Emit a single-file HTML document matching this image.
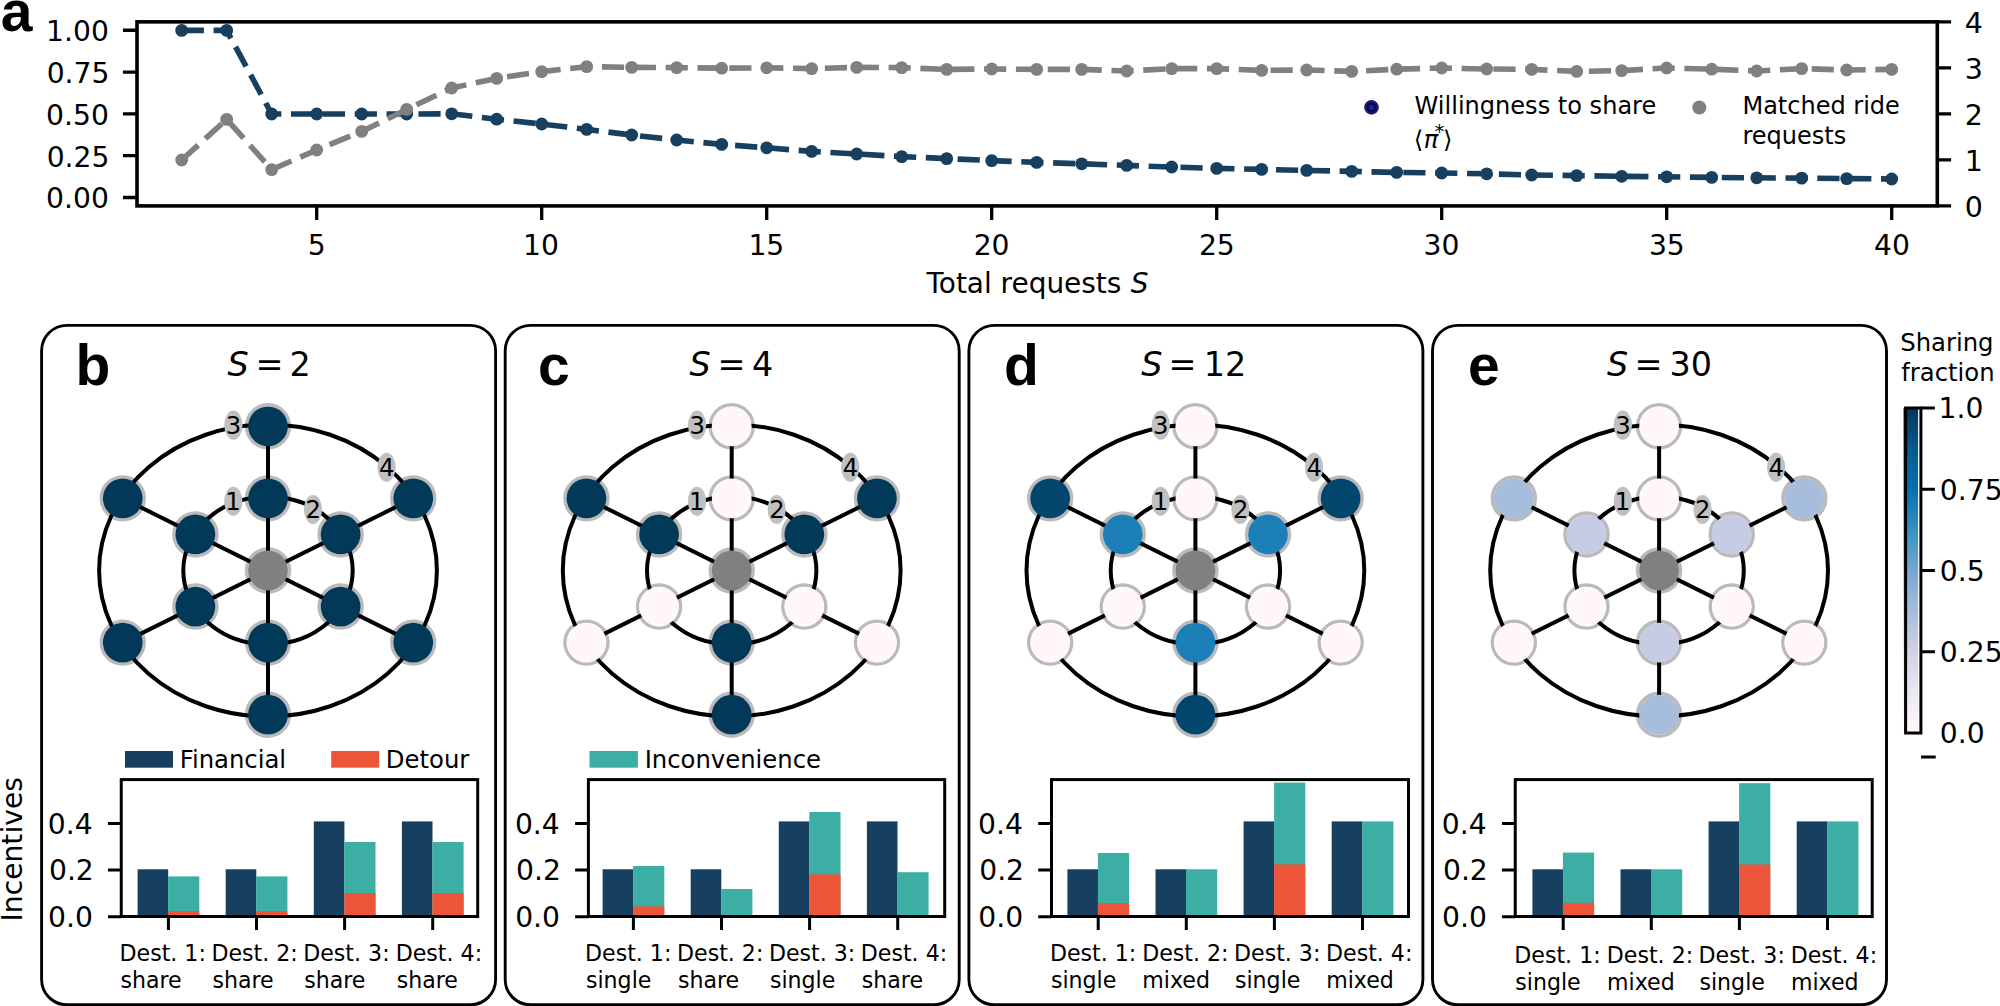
<!DOCTYPE html>
<html><head><meta charset="utf-8"><title>Figure</title><style>html,body{margin:0;padding:0;background:#fff}svg{display:block}</style></head><body>
<svg width="2000" height="1006" viewBox="0 0 2000 1006" font-family="'DejaVu Sans', 'Liberation Sans', sans-serif" fill="#000">
<rect width="2000" height="1006" fill="#fff"/>
<polyline points="181.7,30.4 226.7,30.4 271.7,114 316.7,114 361.7,114 406.7,114 451.7,113.8 496.7,119.2 541.7,124 586.7,129.4 631.7,135 676.7,140 721.7,144.4 766.7,147.8 811.7,151.4 856.7,154 901.7,156.6 946.7,158.6 991.7,160.6 1036.7,162.4 1081.7,163.8 1126.7,165.4 1171.7,167 1216.7,168.4 1261.7,169.4 1306.7,170.4 1351.7,171.4 1396.7,172.4 1441.7,173 1486.7,173.8 1531.7,175 1576.7,175.6 1621.7,176.3 1666.7,176.8 1711.7,177.4 1756.7,177.8 1801.7,178.1 1846.7,178.6 1891.7,179" fill="none" stroke="#173F5F" stroke-width="5.6" stroke-dasharray="22.2 9.65"/>
<g fill="#173F5F"><circle cx="181.7" cy="30.4" r="6.4"/><circle cx="226.7" cy="30.4" r="6.4"/><circle cx="271.7" cy="114" r="6.4"/><circle cx="316.7" cy="114" r="6.4"/><circle cx="361.7" cy="114" r="6.4"/><circle cx="406.7" cy="114" r="6.4"/><circle cx="451.7" cy="113.8" r="6.4"/><circle cx="496.7" cy="119.2" r="6.4"/><circle cx="541.7" cy="124" r="6.4"/><circle cx="586.7" cy="129.4" r="6.4"/><circle cx="631.7" cy="135" r="6.4"/><circle cx="676.7" cy="140" r="6.4"/><circle cx="721.7" cy="144.4" r="6.4"/><circle cx="766.7" cy="147.8" r="6.4"/><circle cx="811.7" cy="151.4" r="6.4"/><circle cx="856.7" cy="154" r="6.4"/><circle cx="901.7" cy="156.6" r="6.4"/><circle cx="946.7" cy="158.6" r="6.4"/><circle cx="991.7" cy="160.6" r="6.4"/><circle cx="1036.7" cy="162.4" r="6.4"/><circle cx="1081.7" cy="163.8" r="6.4"/><circle cx="1126.7" cy="165.4" r="6.4"/><circle cx="1171.7" cy="167" r="6.4"/><circle cx="1216.7" cy="168.4" r="6.4"/><circle cx="1261.7" cy="169.4" r="6.4"/><circle cx="1306.7" cy="170.4" r="6.4"/><circle cx="1351.7" cy="171.4" r="6.4"/><circle cx="1396.7" cy="172.4" r="6.4"/><circle cx="1441.7" cy="173" r="6.4"/><circle cx="1486.7" cy="173.8" r="6.4"/><circle cx="1531.7" cy="175" r="6.4"/><circle cx="1576.7" cy="175.6" r="6.4"/><circle cx="1621.7" cy="176.3" r="6.4"/><circle cx="1666.7" cy="176.8" r="6.4"/><circle cx="1711.7" cy="177.4" r="6.4"/><circle cx="1756.7" cy="177.8" r="6.4"/><circle cx="1801.7" cy="178.1" r="6.4"/><circle cx="1846.7" cy="178.6" r="6.4"/><circle cx="1891.7" cy="179" r="6.4"/></g>
<polyline points="181.7,160 226.7,119.4 271.7,169.6 316.7,150 361.7,131.4 406.7,109.4 451.7,88 496.7,78.4 541.7,71.6 586.7,66.6 631.7,67.4 676.7,67.6 721.7,68.2 766.7,67.8 811.7,68.6 856.7,67.4 901.7,67.6 946.7,69.4 991.7,69 1036.7,69.4 1081.7,69.4 1126.7,71 1171.7,68.6 1216.7,68.6 1261.7,70.4 1306.7,70 1351.7,71.4 1396.7,69.2 1441.7,68 1486.7,69 1531.7,69.4 1576.7,71.4 1621.7,70.6 1666.7,68 1711.7,69.2 1756.7,71 1801.7,68.6 1846.7,70 1891.7,69.4" fill="none" stroke="#808080" stroke-width="5.6" stroke-dasharray="22.2 9.65"/>
<g fill="#808080"><circle cx="181.7" cy="160" r="6.4"/><circle cx="226.7" cy="119.4" r="6.4"/><circle cx="271.7" cy="169.6" r="6.4"/><circle cx="316.7" cy="150" r="6.4"/><circle cx="361.7" cy="131.4" r="6.4"/><circle cx="406.7" cy="109.4" r="6.4"/><circle cx="451.7" cy="88" r="6.4"/><circle cx="496.7" cy="78.4" r="6.4"/><circle cx="541.7" cy="71.6" r="6.4"/><circle cx="586.7" cy="66.6" r="6.4"/><circle cx="631.7" cy="67.4" r="6.4"/><circle cx="676.7" cy="67.6" r="6.4"/><circle cx="721.7" cy="68.2" r="6.4"/><circle cx="766.7" cy="67.8" r="6.4"/><circle cx="811.7" cy="68.6" r="6.4"/><circle cx="856.7" cy="67.4" r="6.4"/><circle cx="901.7" cy="67.6" r="6.4"/><circle cx="946.7" cy="69.4" r="6.4"/><circle cx="991.7" cy="69" r="6.4"/><circle cx="1036.7" cy="69.4" r="6.4"/><circle cx="1081.7" cy="69.4" r="6.4"/><circle cx="1126.7" cy="71" r="6.4"/><circle cx="1171.7" cy="68.6" r="6.4"/><circle cx="1216.7" cy="68.6" r="6.4"/><circle cx="1261.7" cy="70.4" r="6.4"/><circle cx="1306.7" cy="70" r="6.4"/><circle cx="1351.7" cy="71.4" r="6.4"/><circle cx="1396.7" cy="69.2" r="6.4"/><circle cx="1441.7" cy="68" r="6.4"/><circle cx="1486.7" cy="69" r="6.4"/><circle cx="1531.7" cy="69.4" r="6.4"/><circle cx="1576.7" cy="71.4" r="6.4"/><circle cx="1621.7" cy="70.6" r="6.4"/><circle cx="1666.7" cy="68" r="6.4"/><circle cx="1711.7" cy="69.2" r="6.4"/><circle cx="1756.7" cy="71" r="6.4"/><circle cx="1801.7" cy="68.6" r="6.4"/><circle cx="1846.7" cy="70" r="6.4"/><circle cx="1891.7" cy="69.4" r="6.4"/></g>
<rect x="137.0" y="21.85" width="1800.3" height="184.05" fill="none" stroke="#000" stroke-width="3.6"/>
<path d="M137.0,30.25h-14.05M137.0,72.05h-14.05M137.0,113.9h-14.05M137.0,155.7h-14.05M137.0,197.5h-14.05M1937.3,21.85h13.8M1937.3,67.9h13.8M1937.3,113.9h13.8M1937.3,159.9h13.8M1937.3,205.9h13.8M316.7,205.9v14.1M541.7,205.9v14.1M766.7,205.9v14.1M991.7,205.9v14.1M1216.7,205.9v14.1M1441.7,205.9v14.1M1666.7,205.9v14.1M1891.7,205.9v14.1" stroke="#000" stroke-width="3.3" fill="none"/>
<text x="46.09" y="41.05" font-size="28.2" text-anchor="start">1.00</text>
<text x="46.65" y="82.85" font-size="28.2" text-anchor="start">0.75</text>
<text x="46.09" y="124.7" font-size="28.2" text-anchor="start">0.50</text>
<text x="46.65" y="166.5" font-size="28.2" text-anchor="start">0.25</text>
<text x="46.09" y="208.3" font-size="28.2" text-anchor="start">0.00</text>
<text x="1964.75" y="32.65" font-size="28.5" text-anchor="start">4</text>
<text x="1964.75" y="78.7" font-size="28.5" text-anchor="start">3</text>
<text x="1964.75" y="124.7" font-size="28.5" text-anchor="start">2</text>
<text x="1964.75" y="170.7" font-size="28.5" text-anchor="start">1</text>
<text x="1964.75" y="216.7" font-size="28.5" text-anchor="start">0</text>
<text x="307.85" y="255.2" font-size="28.2" text-anchor="start">5</text>
<text x="523.12" y="255.2" font-size="28.2" text-anchor="start">10</text>
<text x="748.41" y="255.2" font-size="28.2" text-anchor="start">15</text>
<text x="973.65" y="255.2" font-size="28.2" text-anchor="start">20</text>
<text x="1198.93" y="255.2" font-size="28.2" text-anchor="start">25</text>
<text x="1423.62" y="255.2" font-size="28.2" text-anchor="start">30</text>
<text x="1648.9" y="255.2" font-size="28.2" text-anchor="start">35</text>
<text x="1874" y="255.2" font-size="28.2" text-anchor="start">40</text>
<text x="926.47" y="292.8" font-size="27.95" text-anchor="start">Total requests</text>
<text x="1130.76" y="292.8" font-size="27.95" font-style="oblique" text-anchor="start">S</text>
<text x="0.69" y="30.9" font-size="57" font-weight="bold" font-family="'Liberation Sans', Arial, Helvetica, sans-serif" text-anchor="start">a</text>
<circle cx="1371.5" cy="107.4" r="7.3" fill="#1a1a6f"/><circle cx="1371.5" cy="107.4" r="5.1" fill="#080864"/><circle cx="1371.5" cy="107.4" r="2.7" fill="#272774"/>
<circle cx="1699.3" cy="107.5" r="7" fill="#808080"/>
<text x="1414.62" y="114" font-size="24.05" text-anchor="start">Willingness to share</text>
<text x="1742.46" y="114" font-size="24" text-anchor="start">Matched ride</text>
<text x="1742.44" y="144.3" font-size="24" text-anchor="start">requests</text>
<text x="1413.81" y="148" font-size="24.3" text-anchor="start">⟨</text>
<text x="1423.66" y="148" font-size="24.3" font-style="oblique" text-anchor="start">π</text>
<text x="1434.6" y="138.4" font-size="19.93" text-anchor="start">*</text>
<text x="1442.96" y="148" font-size="24.3" text-anchor="start">⟩</text>
<rect x="41.6" y="325.4" width="454" height="679.4" rx="25.3" ry="25.3" fill="none" stroke="#000" stroke-width="2.9"/>
<text x="75.39" y="384.6" font-size="57" font-weight="bold" font-family="'Liberation Sans', Arial, Helvetica, sans-serif" text-anchor="start">b</text>
<text x="227.53" y="376.3" font-size="33.4" font-style="oblique" text-anchor="start">S</text>
<text x="255.39" y="376.3" font-size="33.4" text-anchor="start">=</text>
<text x="289.58" y="376.3" font-size="33.4" text-anchor="start">2</text>
<g fill="none" stroke="#bababa" stroke-width="3.5"><circle cx="268" cy="426.3" r="21.45"/><circle cx="413.24" cy="498.4" r="21.45"/><circle cx="413.24" cy="642.6" r="21.45"/><circle cx="268" cy="714.7" r="21.45"/><circle cx="122.76" cy="642.6" r="21.45"/><circle cx="122.76" cy="498.4" r="21.45"/><circle cx="268" cy="498.4" r="21.45"/><circle cx="340.62" cy="534.45" r="21.45"/><circle cx="340.62" cy="606.55" r="21.45"/><circle cx="268" cy="642.6" r="21.45"/><circle cx="195.38" cy="606.55" r="21.45"/><circle cx="195.38" cy="534.45" r="21.45"/><circle cx="268" cy="570.5" r="21.45"/></g>
<g fill="none" stroke="#000" stroke-width="4">
<ellipse cx="268" cy="570.5" rx="168.9" ry="146"/><ellipse cx="268" cy="570.5" rx="84.7" ry="74"/>
<path d="M268,426.3L268,714.7M413.24,498.4L122.76,642.6M413.24,642.6L122.76,498.4"/></g>
<ellipse cx="233.4" cy="425.2" rx="9.1" ry="14.6" fill="#c0c0c0"/>
<text x="225.72" y="434" font-size="24.3" text-anchor="start">3</text>
<ellipse cx="233.3" cy="501.3" rx="9.1" ry="14.6" fill="#c0c0c0"/>
<text x="225.34" y="510.1" font-size="24.3" text-anchor="start">1</text>
<ellipse cx="313" cy="509.5" rx="9.1" ry="14.6" fill="#c0c0c0"/>
<text x="305.59" y="518.3" font-size="24.3" text-anchor="start">2</text>
<ellipse cx="386.6" cy="467.3" rx="9.1" ry="14.6" fill="#c0c0c0"/>
<text x="378.98" y="476.1" font-size="24.3" text-anchor="start">4</text>
<g><circle cx="268" cy="426.3" r="19.9" fill="#023858"/><circle cx="413.24" cy="498.4" r="19.9" fill="#023858"/><circle cx="413.24" cy="642.6" r="19.9" fill="#023858"/><circle cx="268" cy="714.7" r="19.9" fill="#023858"/><circle cx="122.76" cy="642.6" r="19.9" fill="#023858"/><circle cx="122.76" cy="498.4" r="19.9" fill="#023858"/><circle cx="268" cy="498.4" r="19.9" fill="#023858"/><circle cx="340.62" cy="534.45" r="19.9" fill="#023858"/><circle cx="340.62" cy="606.55" r="19.9" fill="#023858"/><circle cx="268" cy="642.6" r="19.9" fill="#023858"/><circle cx="195.38" cy="606.55" r="19.9" fill="#023858"/><circle cx="195.38" cy="534.45" r="19.9" fill="#023858"/><circle cx="268" cy="570.5" r="19.9" fill="#808080"/></g>
<rect x="137.6" y="869.3" width="30.6" height="47.2" fill="#173F5F"/>
<rect x="168.1" y="876.4" width="31.2" height="40.1" fill="#3CAEA3"/>
<rect x="168.1" y="911" width="31.2" height="5.5" fill="#ED553B"/>
<rect x="225.7" y="869.3" width="30.6" height="47.2" fill="#173F5F"/>
<rect x="256.2" y="876.4" width="31.2" height="40.1" fill="#3CAEA3"/>
<rect x="256.2" y="911" width="31.2" height="5.5" fill="#ED553B"/>
<rect x="313.8" y="821.4" width="30.6" height="95.1" fill="#173F5F"/>
<rect x="344.3" y="842" width="31.2" height="74.5" fill="#3CAEA3"/>
<rect x="344.3" y="893" width="31.2" height="23.5" fill="#ED553B"/>
<rect x="401.9" y="821.4" width="30.6" height="95.1" fill="#173F5F"/>
<rect x="432.4" y="842" width="31.2" height="74.5" fill="#3CAEA3"/>
<rect x="432.4" y="893" width="31.2" height="23.5" fill="#ED553B"/>
<rect x="121.25" y="779.6" width="356.45" height="136.9" fill="none" stroke="#000" stroke-width="3"/>
<path d="M121.25,916.7h-13.3M121.25,869.9h-13.3M121.25,823.4h-13.3M168.4,916.5v13.5M256.5,916.5v13.5M344.6,916.5v13.5M432.7,916.5v13.5" stroke="#000" stroke-width="3" fill="none"/>
<text x="48.05" y="927.1" font-size="28.2" text-anchor="start">0.0</text>
<text x="48.96" y="880.3" font-size="28.2" text-anchor="start">0.2</text>
<text x="47.76" y="833.8" font-size="28.2" text-anchor="start">0.4</text>
<text x="119.55" y="960.7" font-size="22.1" text-anchor="start">Dest. 1:</text>
<text x="120.48" y="988" font-size="22.1" text-anchor="start">share</text>
<text x="211.45" y="960.7" font-size="22.1" text-anchor="start">Dest. 2:</text>
<text x="212.38" y="988" font-size="22.1" text-anchor="start">share</text>
<text x="303.25" y="960.7" font-size="22.1" text-anchor="start">Dest. 3:</text>
<text x="304.18" y="988" font-size="22.1" text-anchor="start">share</text>
<text x="395.75" y="960.7" font-size="22.1" text-anchor="start">Dest. 4:</text>
<text x="396.68" y="988" font-size="22.1" text-anchor="start">share</text>
<rect x="505.2" y="325.4" width="454" height="679.4" rx="25.3" ry="25.3" fill="none" stroke="#000" stroke-width="2.9"/>
<text x="538.02" y="384.6" font-size="57" font-weight="bold" font-family="'Liberation Sans', Arial, Helvetica, sans-serif" text-anchor="start">c</text>
<text x="689.43" y="376.3" font-size="33.4" font-style="oblique" text-anchor="start">S</text>
<text x="717.49" y="376.3" font-size="33.4" text-anchor="start">=</text>
<text x="752.01" y="376.3" font-size="33.4" text-anchor="start">4</text>
<g fill="none" stroke="#bababa" stroke-width="3.5"><circle cx="731.7" cy="426.3" r="21.45"/><circle cx="876.94" cy="498.4" r="21.45"/><circle cx="876.94" cy="642.6" r="21.45"/><circle cx="731.7" cy="714.7" r="21.45"/><circle cx="586.46" cy="642.6" r="21.45"/><circle cx="586.46" cy="498.4" r="21.45"/><circle cx="731.7" cy="498.4" r="21.45"/><circle cx="804.32" cy="534.45" r="21.45"/><circle cx="804.32" cy="606.55" r="21.45"/><circle cx="731.7" cy="642.6" r="21.45"/><circle cx="659.08" cy="606.55" r="21.45"/><circle cx="659.08" cy="534.45" r="21.45"/><circle cx="731.7" cy="570.5" r="21.45"/></g>
<g fill="none" stroke="#000" stroke-width="4">
<ellipse cx="731.7" cy="570.5" rx="168.9" ry="146"/><ellipse cx="731.7" cy="570.5" rx="84.7" ry="74"/>
<path d="M731.7,426.3L731.7,714.7M876.94,498.4L586.46,642.6M876.94,642.6L586.46,498.4"/></g>
<ellipse cx="697.1" cy="425.2" rx="9.1" ry="14.6" fill="#c0c0c0"/>
<text x="689.42" y="434" font-size="24.3" text-anchor="start">3</text>
<ellipse cx="697" cy="501.3" rx="9.1" ry="14.6" fill="#c0c0c0"/>
<text x="689.04" y="510.1" font-size="24.3" text-anchor="start">1</text>
<ellipse cx="776.7" cy="509.5" rx="9.1" ry="14.6" fill="#c0c0c0"/>
<text x="769.29" y="518.3" font-size="24.3" text-anchor="start">2</text>
<ellipse cx="850.3" cy="467.3" rx="9.1" ry="14.6" fill="#c0c0c0"/>
<text x="842.68" y="476.1" font-size="24.3" text-anchor="start">4</text>
<g><circle cx="731.7" cy="426.3" r="19.9" fill="#fff7fb"/><circle cx="876.94" cy="498.4" r="19.9" fill="#023858"/><circle cx="876.94" cy="642.6" r="19.9" fill="#fff7fb"/><circle cx="731.7" cy="714.7" r="19.9" fill="#023858"/><circle cx="586.46" cy="642.6" r="19.9" fill="#fff7fb"/><circle cx="586.46" cy="498.4" r="19.9" fill="#023858"/><circle cx="731.7" cy="498.4" r="19.9" fill="#fff7fb"/><circle cx="804.32" cy="534.45" r="19.9" fill="#023858"/><circle cx="804.32" cy="606.55" r="19.9" fill="#fff7fb"/><circle cx="731.7" cy="642.6" r="19.9" fill="#023858"/><circle cx="659.08" cy="606.55" r="19.9" fill="#fff7fb"/><circle cx="659.08" cy="534.45" r="19.9" fill="#023858"/><circle cx="731.7" cy="570.5" r="19.9" fill="#808080"/></g>
<rect x="602.6" y="869.3" width="30.6" height="47.2" fill="#173F5F"/>
<rect x="633.1" y="866" width="31.2" height="50.5" fill="#3CAEA3"/>
<rect x="633.1" y="906.4" width="31.2" height="10.1" fill="#ED553B"/>
<rect x="690.7" y="869.3" width="30.6" height="47.2" fill="#173F5F"/>
<rect x="721.2" y="889" width="31.2" height="27.5" fill="#3CAEA3"/>
<rect x="778.8" y="821.4" width="30.6" height="95.1" fill="#173F5F"/>
<rect x="809.3" y="812" width="31.2" height="104.5" fill="#3CAEA3"/>
<rect x="809.3" y="874.4" width="31.2" height="42.1" fill="#ED553B"/>
<rect x="866.9" y="821.4" width="30.6" height="95.1" fill="#173F5F"/>
<rect x="897.4" y="872.2" width="31.2" height="44.3" fill="#3CAEA3"/>
<rect x="588.4" y="779.6" width="356.3" height="136.9" fill="none" stroke="#000" stroke-width="3"/>
<path d="M588.4,916.7h-13.3M588.4,869.9h-13.3M588.4,823.4h-13.3M633.4,916.5v13.5M721.5,916.5v13.5M809.6,916.5v13.5M897.7,916.5v13.5" stroke="#000" stroke-width="3" fill="none"/>
<text x="515.19" y="927.1" font-size="28.2" text-anchor="start">0.0</text>
<text x="516.11" y="880.3" font-size="28.2" text-anchor="start">0.2</text>
<text x="514.91" y="833.8" font-size="28.2" text-anchor="start">0.4</text>
<text x="585.05" y="960.7" font-size="22.1" text-anchor="start">Dest. 1:</text>
<text x="585.98" y="988" font-size="22.1" text-anchor="start">single</text>
<text x="677.05" y="960.7" font-size="22.1" text-anchor="start">Dest. 2:</text>
<text x="677.98" y="988" font-size="22.1" text-anchor="start">share</text>
<text x="768.95" y="960.7" font-size="22.1" text-anchor="start">Dest. 3:</text>
<text x="769.88" y="988" font-size="22.1" text-anchor="start">single</text>
<text x="860.85" y="960.7" font-size="22.1" text-anchor="start">Dest. 4:</text>
<text x="861.78" y="988" font-size="22.1" text-anchor="start">share</text>
<rect x="968.9" y="325.4" width="454" height="679.4" rx="25.3" ry="25.3" fill="none" stroke="#000" stroke-width="2.9"/>
<text x="1004.12" y="384.6" font-size="57" font-weight="bold" font-family="'Liberation Sans', Arial, Helvetica, sans-serif" text-anchor="start">d</text>
<text x="1141.13" y="376.3" font-size="33.4" font-style="oblique" text-anchor="start">S</text>
<text x="1168.49" y="376.3" font-size="33.4" text-anchor="start">=</text>
<text x="1203.83" y="376.3" font-size="33.4" text-anchor="start">12</text>
<g fill="none" stroke="#bababa" stroke-width="3.5"><circle cx="1195.4" cy="426.3" r="21.45"/><circle cx="1340.64" cy="498.4" r="21.45"/><circle cx="1340.64" cy="642.6" r="21.45"/><circle cx="1195.4" cy="714.7" r="21.45"/><circle cx="1050.16" cy="642.6" r="21.45"/><circle cx="1050.16" cy="498.4" r="21.45"/><circle cx="1195.4" cy="498.4" r="21.45"/><circle cx="1268.02" cy="534.45" r="21.45"/><circle cx="1268.02" cy="606.55" r="21.45"/><circle cx="1195.4" cy="642.6" r="21.45"/><circle cx="1122.78" cy="606.55" r="21.45"/><circle cx="1122.78" cy="534.45" r="21.45"/><circle cx="1195.4" cy="570.5" r="21.45"/></g>
<g fill="none" stroke="#000" stroke-width="4">
<ellipse cx="1195.4" cy="570.5" rx="168.9" ry="146"/><ellipse cx="1195.4" cy="570.5" rx="84.7" ry="74"/>
<path d="M1195.4,426.3L1195.4,714.7M1340.64,498.4L1050.16,642.6M1340.64,642.6L1050.16,498.4"/></g>
<ellipse cx="1160.8" cy="425.2" rx="9.1" ry="14.6" fill="#c0c0c0"/>
<text x="1153.12" y="434" font-size="24.3" text-anchor="start">3</text>
<ellipse cx="1160.7" cy="501.3" rx="9.1" ry="14.6" fill="#c0c0c0"/>
<text x="1152.74" y="510.1" font-size="24.3" text-anchor="start">1</text>
<ellipse cx="1240.4" cy="509.5" rx="9.1" ry="14.6" fill="#c0c0c0"/>
<text x="1232.99" y="518.3" font-size="24.3" text-anchor="start">2</text>
<ellipse cx="1314" cy="467.3" rx="9.1" ry="14.6" fill="#c0c0c0"/>
<text x="1306.38" y="476.1" font-size="24.3" text-anchor="start">4</text>
<g><circle cx="1195.4" cy="426.3" r="19.9" fill="#fff7fb"/><circle cx="1340.64" cy="498.4" r="19.9" fill="#03466d"/><circle cx="1340.64" cy="642.6" r="19.9" fill="#fff7fb"/><circle cx="1195.4" cy="714.7" r="19.9" fill="#03466d"/><circle cx="1050.16" cy="642.6" r="19.9" fill="#fff7fb"/><circle cx="1050.16" cy="498.4" r="19.9" fill="#03466d"/><circle cx="1195.4" cy="498.4" r="19.9" fill="#fff7fb"/><circle cx="1268.02" cy="534.45" r="19.9" fill="#1d7fb8"/><circle cx="1268.02" cy="606.55" r="19.9" fill="#fff7fb"/><circle cx="1195.4" cy="642.6" r="19.9" fill="#1d7fb8"/><circle cx="1122.78" cy="606.55" r="19.9" fill="#fff7fb"/><circle cx="1122.78" cy="534.45" r="19.9" fill="#1d7fb8"/><circle cx="1195.4" cy="570.5" r="19.9" fill="#808080"/></g>
<rect x="1067.4" y="869.3" width="30.6" height="47.2" fill="#173F5F"/>
<rect x="1097.9" y="853" width="31.2" height="63.5" fill="#3CAEA3"/>
<rect x="1097.9" y="903" width="31.2" height="13.5" fill="#ED553B"/>
<rect x="1155.5" y="869.3" width="30.6" height="47.2" fill="#173F5F"/>
<rect x="1186" y="869.3" width="31.2" height="47.2" fill="#3CAEA3"/>
<rect x="1243.6" y="821.4" width="30.6" height="95.1" fill="#173F5F"/>
<rect x="1274.1" y="782.6" width="31.2" height="133.9" fill="#3CAEA3"/>
<rect x="1274.1" y="864.4" width="31.2" height="52.1" fill="#ED553B"/>
<rect x="1331.7" y="821.4" width="30.6" height="95.1" fill="#173F5F"/>
<rect x="1362.2" y="821.4" width="31.2" height="95.1" fill="#3CAEA3"/>
<rect x="1051.5" y="779.6" width="357" height="136.9" fill="none" stroke="#000" stroke-width="3"/>
<path d="M1051.5,916.7h-13.3M1051.5,869.9h-13.3M1051.5,823.4h-13.3M1098.2,916.5v13.5M1186.3,916.5v13.5M1274.4,916.5v13.5M1362.5,916.5v13.5" stroke="#000" stroke-width="3" fill="none"/>
<text x="978.29" y="927.1" font-size="28.2" text-anchor="start">0.0</text>
<text x="979.21" y="880.3" font-size="28.2" text-anchor="start">0.2</text>
<text x="978.01" y="833.8" font-size="28.2" text-anchor="start">0.4</text>
<text x="1049.95" y="961.2" font-size="22.1" text-anchor="start">Dest. 1:</text>
<text x="1050.88" y="988.4" font-size="22.1" text-anchor="start">single</text>
<text x="1142.15" y="961.2" font-size="22.1" text-anchor="start">Dest. 2:</text>
<text x="1142.31" y="988.4" font-size="22.1" text-anchor="start">mixed</text>
<text x="1234.05" y="961.2" font-size="22.1" text-anchor="start">Dest. 3:</text>
<text x="1234.98" y="988.4" font-size="22.1" text-anchor="start">single</text>
<text x="1326.05" y="961.2" font-size="22.1" text-anchor="start">Dest. 4:</text>
<text x="1326.21" y="988.4" font-size="22.1" text-anchor="start">mixed</text>
<rect x="1432.5" y="325.4" width="454" height="679.4" rx="25.3" ry="25.3" fill="none" stroke="#000" stroke-width="2.9"/>
<text x="1468.12" y="384.6" font-size="57" font-weight="bold" font-family="'Liberation Sans', Arial, Helvetica, sans-serif" text-anchor="start">e</text>
<text x="1607.03" y="376.3" font-size="33.4" font-style="oblique" text-anchor="start">S</text>
<text x="1634.59" y="376.3" font-size="33.4" text-anchor="start">=</text>
<text x="1669.49" y="376.3" font-size="33.4" text-anchor="start">30</text>
<g fill="none" stroke="#bababa" stroke-width="3.5"><circle cx="1659.1" cy="426.3" r="21.45"/><circle cx="1804.34" cy="498.4" r="21.45"/><circle cx="1804.34" cy="642.6" r="21.45"/><circle cx="1659.1" cy="714.7" r="21.45"/><circle cx="1513.86" cy="642.6" r="21.45"/><circle cx="1513.86" cy="498.4" r="21.45"/><circle cx="1659.1" cy="498.4" r="21.45"/><circle cx="1731.72" cy="534.45" r="21.45"/><circle cx="1731.72" cy="606.55" r="21.45"/><circle cx="1659.1" cy="642.6" r="21.45"/><circle cx="1586.48" cy="606.55" r="21.45"/><circle cx="1586.48" cy="534.45" r="21.45"/><circle cx="1659.1" cy="570.5" r="21.45"/></g>
<g fill="none" stroke="#000" stroke-width="4">
<ellipse cx="1659.1" cy="570.5" rx="168.9" ry="146"/><ellipse cx="1659.1" cy="570.5" rx="84.7" ry="74"/>
<path d="M1659.1,426.3L1659.1,714.7M1804.34,498.4L1513.86,642.6M1804.34,642.6L1513.86,498.4"/></g>
<ellipse cx="1622.9" cy="425.2" rx="9.1" ry="14.6" fill="#c0c0c0"/>
<text x="1615.22" y="434" font-size="24.3" text-anchor="start">3</text>
<ellipse cx="1622.8" cy="501.3" rx="9.1" ry="14.6" fill="#c0c0c0"/>
<text x="1614.84" y="510.1" font-size="24.3" text-anchor="start">1</text>
<ellipse cx="1702.5" cy="509.5" rx="9.1" ry="14.6" fill="#c0c0c0"/>
<text x="1695.09" y="518.3" font-size="24.3" text-anchor="start">2</text>
<ellipse cx="1776.1" cy="467.3" rx="9.1" ry="14.6" fill="#c0c0c0"/>
<text x="1768.48" y="476.1" font-size="24.3" text-anchor="start">4</text>
<g><circle cx="1659.1" cy="426.3" r="19.9" fill="#fff7fb"/><circle cx="1804.34" cy="498.4" r="19.9" fill="#a6bddb"/><circle cx="1804.34" cy="642.6" r="19.9" fill="#fff7fb"/><circle cx="1659.1" cy="714.7" r="19.9" fill="#a6bddb"/><circle cx="1513.86" cy="642.6" r="19.9" fill="#fff7fb"/><circle cx="1513.86" cy="498.4" r="19.9" fill="#a6bddb"/><circle cx="1659.1" cy="498.4" r="19.9" fill="#fff7fb"/><circle cx="1731.72" cy="534.45" r="19.9" fill="#c6cce3"/><circle cx="1731.72" cy="606.55" r="19.9" fill="#fff7fb"/><circle cx="1659.1" cy="642.6" r="19.9" fill="#c6cce3"/><circle cx="1586.48" cy="606.55" r="19.9" fill="#fff7fb"/><circle cx="1586.48" cy="534.45" r="19.9" fill="#c6cce3"/><circle cx="1659.1" cy="570.5" r="19.9" fill="#808080"/></g>
<rect x="1532.4" y="869.3" width="30.6" height="47.2" fill="#173F5F"/>
<rect x="1562.9" y="852.6" width="31.2" height="63.9" fill="#3CAEA3"/>
<rect x="1562.9" y="902.8" width="31.2" height="13.7" fill="#ED553B"/>
<rect x="1620.5" y="869.3" width="30.6" height="47.2" fill="#173F5F"/>
<rect x="1651" y="869.3" width="31.2" height="47.2" fill="#3CAEA3"/>
<rect x="1708.6" y="821.4" width="30.6" height="95.1" fill="#173F5F"/>
<rect x="1739.1" y="783.2" width="31.2" height="133.3" fill="#3CAEA3"/>
<rect x="1739.1" y="864.5" width="31.2" height="52" fill="#ED553B"/>
<rect x="1796.7" y="821.4" width="30.6" height="95.1" fill="#173F5F"/>
<rect x="1827.2" y="821.4" width="31.2" height="95.1" fill="#3CAEA3"/>
<rect x="1515.25" y="779.6" width="356.95" height="136.9" fill="none" stroke="#000" stroke-width="3"/>
<path d="M1515.25,916.7h-13.3M1515.25,869.9h-13.3M1515.25,823.4h-13.3M1563.2,916.5v13.5M1651.3,916.5v13.5M1739.4,916.5v13.5M1827.5,916.5v13.5" stroke="#000" stroke-width="3" fill="none"/>
<text x="1442.05" y="927.1" font-size="28.2" text-anchor="start">0.0</text>
<text x="1442.96" y="880.3" font-size="28.2" text-anchor="start">0.2</text>
<text x="1441.76" y="833.8" font-size="28.2" text-anchor="start">0.4</text>
<text x="1514.35" y="962.9" font-size="22.1" text-anchor="start">Dest. 1:</text>
<text x="1515.28" y="990.3" font-size="22.1" text-anchor="start">single</text>
<text x="1606.85" y="962.9" font-size="22.1" text-anchor="start">Dest. 2:</text>
<text x="1607.01" y="990.3" font-size="22.1" text-anchor="start">mixed</text>
<text x="1698.55" y="962.9" font-size="22.1" text-anchor="start">Dest. 3:</text>
<text x="1699.48" y="990.3" font-size="22.1" text-anchor="start">single</text>
<text x="1790.75" y="962.9" font-size="22.1" text-anchor="start">Dest. 4:</text>
<text x="1790.91" y="990.3" font-size="22.1" text-anchor="start">mixed</text>
<rect x="125" y="751" width="48" height="16.7" fill="#173F5F"/>
<text x="179.73" y="767.6" font-size="24.3" text-anchor="start">Financial</text>
<rect x="331.2" y="751" width="48" height="16.7" fill="#ED553B"/>
<text x="385.83" y="767.6" font-size="24.3" text-anchor="start">Detour</text>
<rect x="589.5" y="751" width="48.4" height="16.7" fill="#3CAEA3"/>
<text x="644.63" y="767.6" font-size="24.3" text-anchor="start">Inconvenience</text>
<text transform="translate(22,921.55) rotate(-90)" font-size="28.2">Incentives</text>
<defs><linearGradient id="pb" x1="0" y1="1" x2="0" y2="0"><stop offset="0.0" stop-color="#fff7fb"/><stop offset="0.125" stop-color="#ece7f2"/><stop offset="0.25" stop-color="#d0d1e6"/><stop offset="0.375" stop-color="#a6bddb"/><stop offset="0.5" stop-color="#74a9cf"/><stop offset="0.625" stop-color="#3690c0"/><stop offset="0.75" stop-color="#0570b0"/><stop offset="0.875" stop-color="#045a8d"/><stop offset="1.0" stop-color="#023858"/></linearGradient></defs>
<rect x="1903.5" y="408" width="14.6" height="325" fill="url(#pb)"/>
<rect x="1905.6" y="408" width="15.3" height="325" fill="none" stroke="#000" stroke-width="3"/>
<path d="M1920.9,408h14M1920.9,489.25h14M1920.9,570.5h14M1920.9,651.75h14M1921,757h14.7" stroke="#000" stroke-width="3" fill="none"/>
<text x="1938.6" y="418.4" font-size="28.2" text-anchor="start">1.0</text>
<text x="1939.87" y="499.65" font-size="28.2" text-anchor="start">0.75</text>
<text x="1939.87" y="580.9" font-size="28.2" text-anchor="start">0.5</text>
<text x="1939.87" y="662.15" font-size="28.2" text-anchor="start">0.25</text>
<text x="1939.87" y="743.4" font-size="28.2" text-anchor="start">0.0</text>
<text x="1900.22" y="351.3" font-size="24.3" text-anchor="start">Sharing</text>
<text x="1901.25" y="381.1" font-size="24.3" text-anchor="start">fraction</text>
</svg>
</body></html>
